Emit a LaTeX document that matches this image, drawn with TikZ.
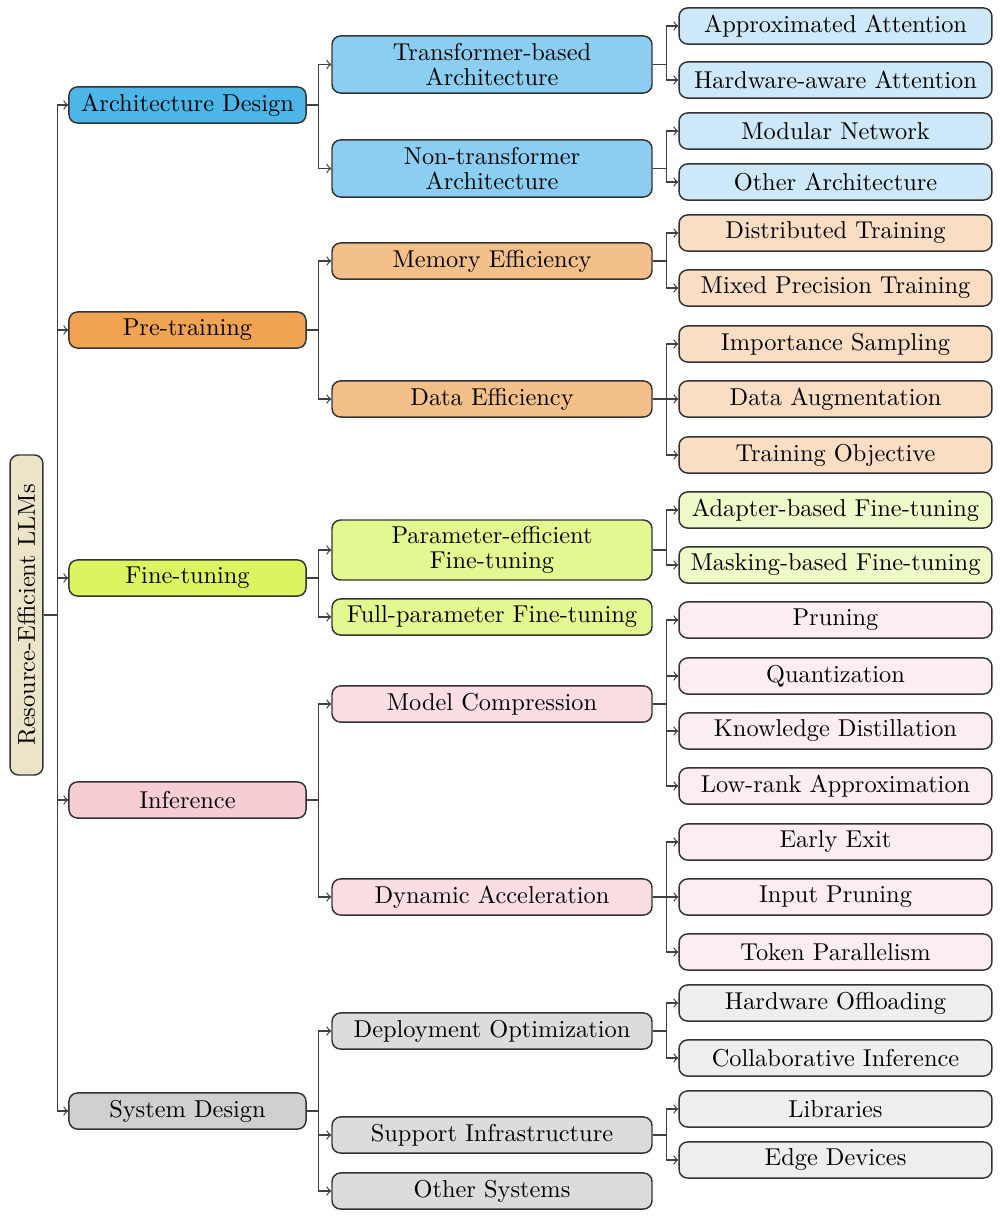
\documentclass[tikz,border=0pt]{standalone}
\usepackage{graphicx}

\definecolor{rootc}{HTML}{EBE4C8}
\definecolor{blueA}{HTML}{4DB6E8}
\definecolor{blueB}{HTML}{8CCDF2}
\definecolor{blueC}{HTML}{CDE8F8}
\definecolor{orangeA}{HTML}{F0A352}
\definecolor{orangeB}{HTML}{F4C08A}
\definecolor{orangeC}{HTML}{FADEC3}
\definecolor{greenA}{HTML}{DAF55F}
\definecolor{greenB}{HTML}{E4F891}
\definecolor{greenC}{HTML}{EEFAC8}
\definecolor{pinkA}{HTML}{F5CDD2}
\definecolor{pinkB}{HTML}{FADEE4}
\definecolor{pinkC}{HTML}{FCEEF0}
\definecolor{grayA}{HTML}{D0D0D0}
\definecolor{grayB}{HTML}{DCDCDC}
\definecolor{grayC}{HTML}{EEEEEE}

\begin{document}
\begin{tikzpicture}[x=0.41pt,y=-0.41pt,
	box/.style={draw=black!80, line width=0.6pt, rounded corners=3.5pt, align=center, inner sep=1pt, font=\fontsize{10pt}{10pt}\selectfont},
	root/.style={box, fill=rootc, minimum width=13.5pt, minimum height=131.2pt},
	lone/.style={box, minimum width=97.2pt, minimum height=14.8pt},
	ltwo/.style={box, minimum width=131.2pt, minimum height=14.8pt},
	lthree/.style={box, minimum width=128.3pt, minimum height=14.8pt},
	link/.style={draw=black!75, line width=0.5pt, ->}]

	\useasboundingbox (0,0) rectangle (1000,1216);

	%Root
	\node[root] (root) at (26.5,615) {\rotatebox{90}{Resource-Efficient LLMs}};

	%Architecture Design
	\node[lone, fill=blueA] (arch) at (187.5,105) {Architecture Design};
	\node[ltwo, fill=blueB, minimum height=23.4pt] (arch1) at (492,64.5) {Transformer-based\\Architecture};
	\node[ltwo, fill=blueB, minimum height=23.4pt] (arch2) at (492,168.5) {Non-transformer\\Architecture};
	\node[lthree, fill=blueC] (arch11) at (835.5,26) {Approximated Attention};
	\node[lthree, fill=blueC] (arch12) at (835.5,80) {Hardware-aware Attention};
	\node[lthree, fill=blueC] (arch21) at (835.5,131) {Modular Network};
	\node[lthree, fill=blueC] (arch22) at (835.5,182) {Other Architecture};

	%Pre-training
	\node[lone, fill=orangeA] (pre) at (187.5,330) {Pre-training};
	\node[ltwo, fill=orangeB] (pre1) at (492,261) {Memory Efficiency};
	\node[ltwo, fill=orangeB] (pre2) at (492,399) {Data Efficiency};
	\node[lthree, fill=orangeC] (pre11) at (835.5,233) {Distributed Training};
	\node[lthree, fill=orangeC] (pre12) at (835.5,288) {Mixed Precision Training};
	\node[lthree, fill=orangeC] (pre21) at (835.5,344) {Importance Sampling};
	\node[lthree, fill=orangeC] (pre22) at (835.5,399) {Data Augmentation};
	\node[lthree, fill=orangeC] (pre23) at (835.5,455) {Training Objective};

	%Fine-tuning
	\node[lone, fill=greenA] (fine) at (187.5,578) {Fine-tuning};
	\node[ltwo, fill=greenB, minimum height=24.6pt] (fine1) at (492,550) {Parameter-efficient\\Fine-tuning};
	\node[ltwo, fill=greenB] (fine2) at (492,617) {Full-parameter Fine-tuning};
	\node[lthree, fill=greenC] (fine11) at (835.5,510) {Adapter-based Fine-tuning};
	\node[lthree, fill=greenC] (fine12) at (835.5,565) {Masking-based Fine-tuning};

	%Inference
	\node[lone, fill=pinkA] (inf) at (187.5,800) {Inference};
	\node[ltwo, fill=pinkB] (inf1) at (492,704) {Model Compression};
	\node[ltwo, fill=pinkB] (inf2) at (492,897) {Dynamic Acceleration};
	\node[lthree, fill=pinkC] (inf11) at (835.5,620) {Pruning};
	\node[lthree, fill=pinkC] (inf12) at (835.5,676) {Quantization};
	\node[lthree, fill=pinkC] (inf13) at (835.5,731) {Knowledge Distillation};
	\node[lthree, fill=pinkC] (inf14) at (835.5,786) {Low-rank Approximation};
	\node[lthree, fill=pinkC] (inf21) at (835.5,842) {Early Exit};
	\node[lthree, fill=pinkC] (inf22) at (835.5,897) {Input Pruning};
	\node[lthree, fill=pinkC] (inf23) at (835.5,952) {Token Parallelism};

	%System Design
	\node[lone, fill=grayA] (sys) at (187.5,1111) {System Design};
	\node[ltwo, fill=grayB] (sys1) at (492,1031) {Deployment Optimization};
	\node[ltwo, fill=grayB] (sys2) at (492,1135) {Support Infrastructure};
	\node[ltwo, fill=grayB] (sys3) at (492,1191) {Other Systems};
	\node[lthree, fill=grayC] (sys11) at (835.5,1003) {Hardware Offloading};
	\node[lthree, fill=grayC] (sys12) at (835.5,1058) {Collaborative Inference};
	\node[lthree, fill=grayC] (sys21) at (835.5,1109) {Libraries};
	\node[lthree, fill=grayC] (sys22) at (835.5,1160) {Edge Devices};

	%Links
	\foreach \c in {arch,pre,fine,inf,sys}
		\draw[link] (root.east) -- ++(14,0) |- (\c.west);
	\foreach \p/\c in {arch/arch1,arch/arch2,pre/pre1,pre/pre2,fine/fine1,fine/fine2,inf/inf1,inf/inf2,sys/sys1,sys/sys2,sys/sys3}
		\draw[link] (\p.east) -- ++(12,0) |- (\c.west);
	\foreach \p/\c in {arch1/arch11,arch1/arch12,arch2/arch21,arch2/arch22,pre1/pre11,pre1/pre12,pre2/pre21,pre2/pre22,pre2/pre23,fine1/fine11,fine1/fine12,inf1/inf11,inf1/inf12,inf1/inf13,inf1/inf14,inf2/inf21,inf2/inf22,inf2/inf23,sys1/sys11,sys1/sys12,sys2/sys21,sys2/sys22}
		\draw[link] (\p.east) -- ++(14,0) |- (\c.west);

\end{tikzpicture}
\end{document}
